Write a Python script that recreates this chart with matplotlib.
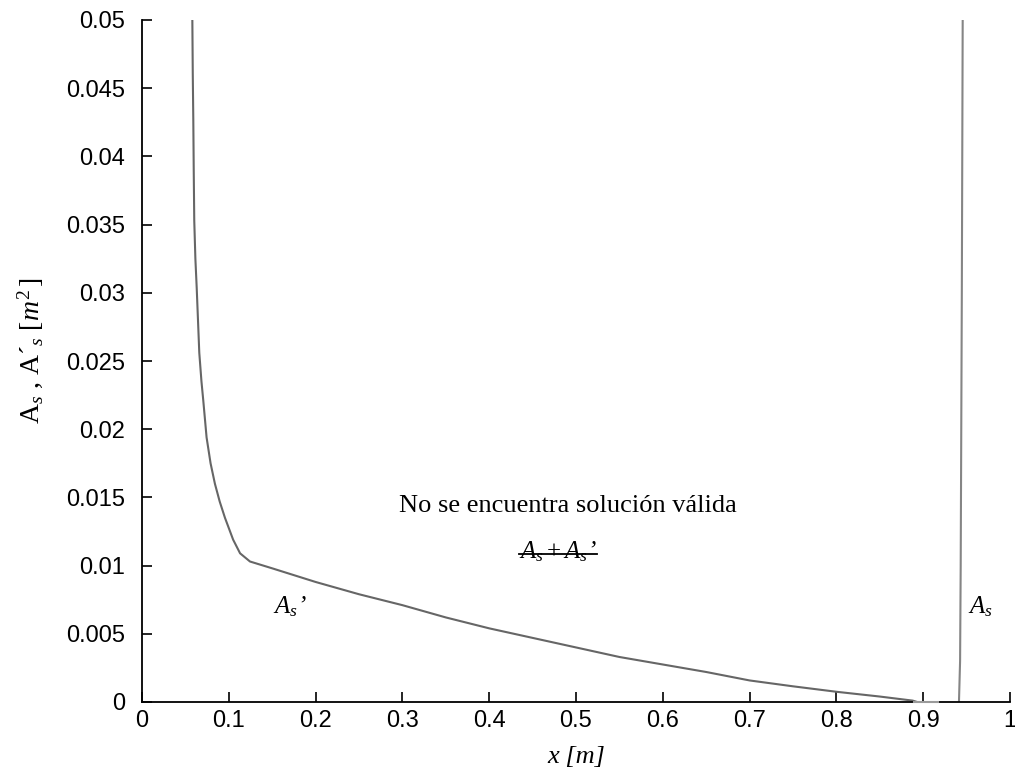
import matplotlib
matplotlib.use("Agg")
import matplotlib.pyplot as plt
from matplotlib.lines import Line2D

# ---- data ----
as_prime_x = [0.0580, 0.0585, 0.0591, 0.0596, 0.0602, 0.0615, 0.0630, 0.0645, 0.0660,
              0.0685, 0.0706, 0.0744, 0.0790, 0.0840, 0.0895, 0.0956, 0.1050, 0.1130,
              0.1244, 0.1500, 0.2000, 0.2500, 0.3000, 0.3500, 0.4000, 0.4500, 0.5000,
              0.5500, 0.6000, 0.6500, 0.7000, 0.7500, 0.8000, 0.8500, 0.8880, 0.8930]
as_prime_y = [0.0500, 0.0460, 0.0427, 0.0390, 0.0353, 0.0325, 0.0304, 0.0280, 0.0256,
              0.0235, 0.0221, 0.0194, 0.0175, 0.0160, 0.0147, 0.0135, 0.0119, 0.0109,
              0.0103, 0.0098, 0.0088, 0.0079, 0.0071, 0.0062, 0.0054, 0.0047, 0.0040,
              0.0033, 0.00275, 0.0022, 0.00158, 0.00115, 0.00075, 0.0004, 0.0001, 0.0]

as_x = [0.9412, 0.9425, 0.9432, 0.9445, 0.9455]
as_y = [0.0, 0.003, 0.010, 0.030, 0.050]

zero_x = [0.889, 0.917]
zero_y = [0.0, 0.0]

x_ticks = [0, 0.1, 0.2, 0.3, 0.4, 0.5, 0.6, 0.7, 0.8, 0.9, 1]
x_tick_labels = ['0', '0.1', '0.2', '0.3', '0.4', '0.5', '0.6', '0.7', '0.8', '0.9', '1']
y_ticks = [0, 0.005, 0.01, 0.015, 0.02, 0.025, 0.03, 0.035, 0.04, 0.045, 0.05]
y_tick_labels = ['0', '0.005', '0.01', '0.015', '0.02', '0.025', '0.03', '0.035',
                 '0.04', '0.045', '0.05']

plt.rcParams['mathtext.fontset'] = 'custom'
plt.rcParams['mathtext.rm'] = 'Liberation Serif'
plt.rcParams['mathtext.it'] = 'Liberation Serif:italic'
plt.rcParams['mathtext.bf'] = 'Liberation Serif:bold'

fig = plt.figure(figsize=(10.15, 7.76), dpi=100)
ax = fig.add_axes([142/1015, 74/776, 868/1015, 682/776])

ax.plot(as_prime_x, as_prime_y, color='#666666', lw=1.5)
ax.plot(as_x, as_y, color='#858585', lw=1.5)
ax.plot(zero_x, zero_y, color='#9a9a9a', lw=1.5, clip_on=False, zorder=4)

ax.set_xlim(0, 1)
ax.set_ylim(0, 0.05)
ax.set_xticks(x_ticks)
ax.set_xticklabels(x_tick_labels, family='Liberation Sans', fontsize=17)
ax.set_yticks(y_ticks)
ax.set_yticklabels(y_tick_labels, family='Liberation Sans', fontsize=17)
ax.tick_params(direction='in', length=7, width=1.2, pad=6)
ax.tick_params(axis='y', pad=12)
for s in ['top', 'right']:
    ax.spines[s].set_visible(False)
for s in ['left', 'bottom']:
    ax.spines[s].set_linewidth(1.3)

ax.set_xlabel('x [m]', family='Liberation Serif', fontstyle='italic', fontsize=19)
ax.xaxis.set_label_coords(0.5, -0.064)
ax.set_ylabel('A$_s$ , A\u00b4$_s$ $[m^2\\,]$', family='Liberation Serif', fontsize=20)
ax.yaxis.set_label_coords(-0.112, 0.516)

ax.text(0.4908, 0.0139, 'No se encuentra soluci\u00f3n v\u00e1lida', family='Liberation Serif',
        fontsize=19, ha='center', va='baseline')
t = ax.text(0.479, 0.0105, "$A_s + A_s$\u2019", family='Liberation Serif', fontstyle='italic',
            fontsize=18, ha='center', va='baseline')
ax.text(0.151, 0.0065, "$A_s$\u2019", family='Liberation Serif', fontstyle='italic',
        fontsize=18, ha='left', va='baseline')
ax.text(0.952, 0.0065, "$A_s$", fontsize=18, ha='left', va='baseline')

fig.canvas.draw()
bb = t.get_window_extent()
inv = fig.transFigure.inverted()
(x0, y0), (x1, y1) = inv.transform([[bb.x0, bb.y0], [bb.x1, bb.y0 + 0.42 * bb.height]])
fig.add_artist(Line2D([x0, x1], [y1, y1], transform=fig.transFigure, color='black', lw=1.3))

fig.savefig('out.png', dpi=100)
